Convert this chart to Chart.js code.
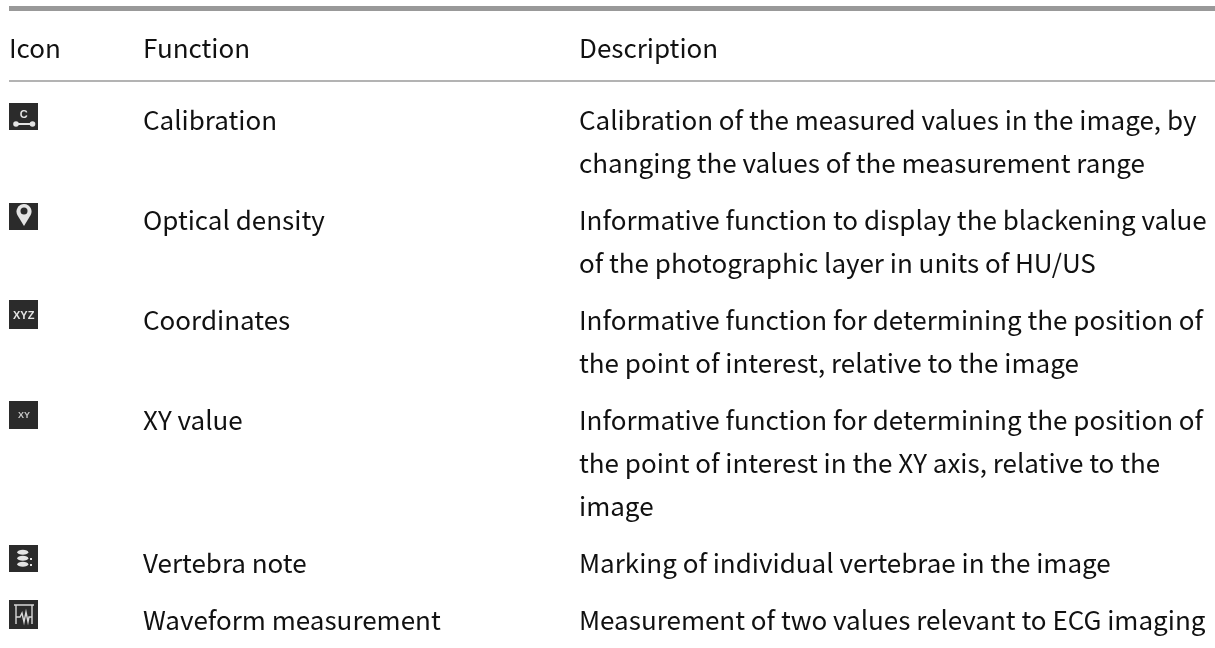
<!DOCTYPE html>
<html lang="en">
<head>
    <meta charset="UTF-8">
    <title>Measurement functions</title>
    <script src="https://cdn.jsdelivr.net/npm/chart.js@4/dist/chart.umd.min.js"></script>
    <style>
        html, body { margin: 0; padding: 0; background: #fff; overflow: hidden; }
        canvas { display: block; }
    </style>
</head>
<body>
    <canvas id="tableChart" width="1215" height="648"></canvas>

    <script>
        const headers = ['Icon', 'Function', 'Description'];
        const iconKinds = ['calibration', 'pin', 'xyz', 'xy', 'vertebra', 'waveform'];
        const functions = ['Calibration', 'Optical density', 'Coordinates', 'XY value', 'Vertebra note', 'Waveform measurement'];
        const descriptions = [
            ['Calibration of the measured values in the image, by', 'changing the values of the measurement range'],
            ['Informative function to display the blackening value', 'of the photographic layer in units of HU/US'],
            ['Informative function for determining the position of', 'the point of interest, relative to the image'],
            ['Informative function for determining the position of', 'the point of interest in the XY axis, relative to the', 'image'],
            ['Marking of individual vertebrae in the image'],
            ['Measurement of two values relevant to ECG imaging']
        ];

        // layout of the table, in canvas pixels (scales run 1:1)
        const colIcon = 9, colFunc = 143, colDesc = 579;
        const headerY = 48, firstRowY = 120, lineH = 43, rowPad = 14;
        const font = '26px "Noto Sans CJK SC", "Noto Sans", sans-serif';
        const iconW = 29;
        const iconTops = [103, 203, 300, 401, 545, 600];
        const iconHeights = [27, 27, 29, 28, 27, 29];

        // y of the first text line of every row
        const rowY = [];
        let cursor = firstRowY;
        descriptions.forEach(lines => {
            rowY.push(cursor);
            cursor += lines.length * lineH + rowPad;
        });

        function makeIcon(kind, i) {
            const c = document.createElement('canvas');
            c.width = iconW;
            c.height = iconHeights[i];
            const g = c.getContext('2d');
            g.fillStyle = '#2b2b2b';
            g.fillRect(0, 0, c.width, c.height);
            g.fillStyle = '#e4e4e4';
            g.strokeStyle = '#d8d8d8';
            g.textAlign = 'center';
            g.textBaseline = 'middle';
            if (kind === 'calibration') {
                g.font = 'bold 11px "Liberation Sans"';
                g.fillText('C', 14.7, 11.5);
                g.fillRect(7, 20, 16, 2);
                g.beginPath();
                g.arc(7, 21, 2.8, 0, Math.PI * 2);
                g.fill();
                g.beginPath();
                g.arc(23.5, 21, 2.8, 0, Math.PI * 2);
                g.fill();
            } else if (kind === 'pin') {
                g.beginPath();
                g.arc(15, 8.5, 7.5, Math.PI * 0.85, Math.PI * 0.15);
                g.lineTo(15, 23);
                g.closePath();
                g.fill();
                g.fillStyle = '#2b2b2b';
                g.beginPath();
                g.arc(15, 8, 3.5, 0, Math.PI * 2);
                g.fill();
            } else if (kind === 'xyz') {
                g.font = 'bold 11px "Liberation Sans"';
                g.fillText('XYZ', 14.7, 16);
            } else if (kind === 'xy') {
                g.fillStyle = '#c8c8c8';
                g.font = 'bold 9px "Liberation Sans"';
                g.fillText('XY', 15, 15);
            } else if (kind === 'vertebra') {
                [7.3, 13.3, 19.3].forEach(y => {
                    g.beginPath();
                    g.ellipse(13.8, y, 5.5, 2.5, 0, 0, Math.PI * 2);
                    g.fill();
                });
                g.fillRect(21, 13, 2, 2);
                g.fillRect(21, 19, 2, 2);
            } else {
                g.lineWidth = 1.4;
                g.beginPath();
                g.moveTo(5, 5); g.lineTo(25, 5);
                g.moveTo(7, 5); g.lineTo(7, 24);
                g.moveTo(23, 5); g.lineTo(23, 24);
                g.moveTo(7, 17); g.lineTo(11, 17); g.lineTo(13, 13); g.lineTo(15, 22);
                g.lineTo(17, 12); g.lineTo(19, 22); g.lineTo(20, 17); g.lineTo(23, 17);
                g.stroke();
            }
            return c;
        }

        const tableText = {
            id: 'tableText',
            afterDatasetsDraw(chart) {
                const { ctx, scales: { x, y } } = chart;
                ctx.save();
                ctx.font = font;
                ctx.fillStyle = '#111111';
                ctx.textAlign = 'left';
                ctx.textBaseline = 'middle';
                [colIcon, colFunc, colDesc].forEach((col, i) => {
                    ctx.fillText(headers[i], x.getPixelForValue(col), y.getPixelForValue(headerY));
                });
                functions.forEach((name, i) => {
                    ctx.fillText(name, x.getPixelForValue(colFunc), y.getPixelForValue(rowY[i]));
                    descriptions[i].forEach((line, j) => {
                        ctx.fillText(line, x.getPixelForValue(colDesc), y.getPixelForValue(rowY[i] + j * lineH));
                    });
                });
                ctx.restore();
            }
        };

        new Chart(document.getElementById('tableChart'), {
            type: 'scatter',
            data: {
                datasets: [
                    {
                        data: iconKinds.map((k, i) => ({ x: colIcon + iconW / 2, y: iconTops[i] + iconHeights[i] / 2 })),
                        pointStyle: iconKinds.map(makeIcon),
                        pointRadius: 14
                    },
                    {
                        data: [{ x: colIcon, y: 8.5 }, { x: 1215, y: 8.5 }],
                        showLine: true,
                        borderColor: '#999999',
                        borderWidth: 5,
                        pointRadius: 0
                    },
                    {
                        data: [{ x: colIcon, y: 81 }, { x: 1215, y: 81 }],
                        showLine: true,
                        borderColor: '#b3b3b3',
                        borderWidth: 2,
                        pointRadius: 0
                    }
                ]
            },
            options: {
                responsive: false,
                animation: false,
                layout: { padding: 0, autoPadding: false },
                plugins: { legend: { display: false }, tooltip: { enabled: false } },
                scales: {
                    x: { type: 'linear', display: false, min: 0, max: 1215 },
                    y: { type: 'linear', display: false, min: 0, max: 648, reverse: true }
                }
            },
            plugins: [tableText]
        });
    </script>
</body>
</html>
